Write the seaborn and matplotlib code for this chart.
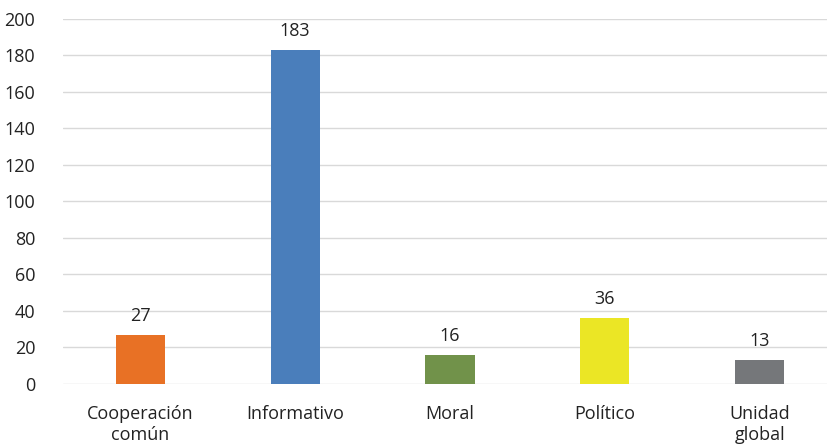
import matplotlib
matplotlib.use("Agg")
import matplotlib.pyplot as plt
import seaborn as sns
import pandas as pd

# Chart data
categories = ["Cooperación\ncomún", "Informativo", "Moral", "Político", "Unidad\nglobal"]
counts = [27, 183, 16, 36, 13]
colors = ["#E87125", "#4A7EBB", "#71924A", "#EBE625", "#75777A"]

df = pd.DataFrame({"Categoria": categories, "Total": counts})

sns.set_theme(style="white")
plt.rcParams["font.family"] = ["Open Sans", "DejaVu Sans"]

fig = plt.figure(figsize=(8.28, 4.48), dpi=100)
# the plot area runs past the right edge, as in the original crop
ax = fig.add_axes([0.076, 0.143, 0.935, 0.815])

sns.barplot(x="Categoria", y="Total", data=df, hue="Categoria", palette=colors,
            legend=False, width=0.317, saturation=1, linewidth=0, ax=ax, zorder=3)

# value labels above bars
for i, v in enumerate(counts):
    ax.annotate(str(v), (i, v), xytext=(0, 7), textcoords="offset points",
                ha="center", va="bottom", fontsize=13, color="#222222")

ax.set_ylim(0, 200)
ax.set_yticks(range(0, 201, 20))
ax.grid(axis="y", color="#D9D9D9", linewidth=1, zorder=0)
ax.set_xlabel("")
ax.set_ylabel("")
for s in ax.spines.values():
    s.set_visible(False)
ax.tick_params(axis="both", length=0, labelsize=13, colors="#222222")
ax.tick_params(axis="x", pad=15)
ax.tick_params(axis="y", pad=20)

plt.savefig("out.png", dpi=100)
